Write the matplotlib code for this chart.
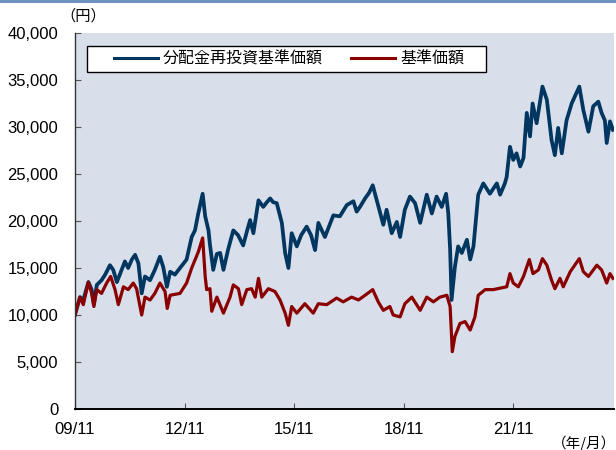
import matplotlib
matplotlib.use("Agg")
import matplotlib.pyplot as plt
from matplotlib.patches import Rectangle

plt.rcParams['font.family'] = ['Liberation Sans', 'Noto Sans CJK JP', 'DejaVu Sans']

# ---- data (decimal years, yen) ----
reinv_t = [2009.83, 2009.97, 2010.06, 2010.20, 2010.29, 2010.35, 2010.43, 2010.56, 2010.66, 2010.79,
           2010.88, 2010.98, 2011.07, 2011.20, 2011.29, 2011.39, 2011.48, 2011.57, 2011.66, 2011.75,
           2011.89, 2012.02, 2012.16, 2012.25, 2012.35, 2012.44, 2012.57, 2012.71, 2012.89, 2013.03,
           2013.12, 2013.21, 2013.33, 2013.40, 2013.49, 2013.53, 2013.62, 2013.72, 2013.81, 2013.90,
           2014.03, 2014.17, 2014.30, 2014.44, 2014.55, 2014.63, 2014.72, 2014.86, 2014.99, 2015.09,
           2015.18, 2015.26, 2015.36, 2015.50, 2015.59, 2015.68, 2015.77, 2015.91, 2016.03, 2016.18,
           2016.30, 2016.41, 2016.50, 2016.68, 2016.91, 2017.09, 2017.28, 2017.46, 2017.55, 2017.64,
           2017.78, 2017.89, 2017.99, 2018.10, 2018.28, 2018.37, 2018.51, 2018.65, 2018.74, 2018.87,
           2019.01, 2019.15, 2019.29, 2019.47, 2019.61, 2019.74, 2019.88, 2020.00, 2020.06, 2020.11,
           2020.15, 2020.24, 2020.33, 2020.43, 2020.57, 2020.66, 2020.75, 2020.88, 2021.02, 2021.20,
           2021.39, 2021.48, 2021.61, 2021.66, 2021.75, 2021.84, 2021.93, 2022.03, 2022.12, 2022.21,
           2022.30, 2022.37, 2022.48, 2022.64, 2022.76, 2022.89, 2022.98, 2023.07, 2023.17, 2023.30,
           2023.44, 2023.65, 2023.76, 2023.90, 2024.03, 2024.17, 2024.26, 2024.35, 2024.40, 2024.49,
           2024.57]
reinv_v = [10000, 11900, 11600, 13500, 12700, 11100, 13200, 13700, 14300, 15300,
           14800, 13500, 14400, 15700, 15000, 15900, 16400, 15500, 12300, 14100,
           13700, 14800, 16200, 15100, 13000, 14600, 14300, 15000, 15900, 18300,
           19000, 20800, 22900, 20500, 19000, 17500, 14800, 16500, 16600, 14800,
           17000, 19000, 18500, 17400, 19000, 20100, 18700, 22200, 21500, 22000,
           22400, 22000, 21900, 19800, 16600, 15000, 18700, 17300, 18500, 19400,
           18500, 16900, 19800, 18300, 20600, 20500, 21700, 22100, 21000, 21500,
           22400, 23000, 23800, 22200, 19600, 21200, 18700, 19900, 18300, 21200,
           22600, 21900, 19800, 22800, 20800, 22600, 21500, 22900, 20800, 17000,
           11600, 15100, 17300, 16600, 18000, 15900, 17300, 22800, 24000, 22900,
           24000, 22800, 24000, 24700, 27900, 26500, 27200, 25800, 26700, 31500,
           29000, 32500, 30400, 34300, 32900, 28600, 27000, 29900, 27200, 30700,
           32500, 34300, 31800, 29500, 32200, 32700, 31500, 30700, 28300, 30600,
           29700]

nav_t = [2009.83, 2009.97, 2010.06, 2010.20, 2010.29, 2010.35, 2010.43, 2010.56, 2010.70, 2010.81,
         2010.93, 2011.02, 2011.16, 2011.29, 2011.43, 2011.52, 2011.66, 2011.75, 2011.89, 2012.02,
         2012.16, 2012.30, 2012.36, 2012.44, 2012.71, 2012.89, 2013.03, 2013.21, 2013.33, 2013.40,
         2013.44, 2013.53, 2013.58, 2013.72, 2013.90, 2014.08, 2014.17, 2014.31, 2014.40, 2014.54,
         2014.67, 2014.77, 2014.86, 2014.95, 2015.13, 2015.31, 2015.45, 2015.59, 2015.68, 2015.77,
         2015.91, 2016.13, 2016.36, 2016.50, 2016.73, 2017.00, 2017.18, 2017.41, 2017.60, 2017.78,
         2017.99, 2018.14, 2018.28, 2018.46, 2018.55, 2018.74, 2018.87, 2019.06, 2019.29, 2019.47,
         2019.65, 2019.83, 2020.02, 2020.11, 2020.17, 2020.24, 2020.38, 2020.52, 2020.66, 2020.79,
         2020.88, 2021.07, 2021.29, 2021.66, 2021.75, 2021.84, 2021.98, 2022.12, 2022.28, 2022.38,
         2022.53, 2022.64, 2022.76, 2022.89, 2022.98, 2023.12, 2023.21, 2023.40, 2023.65, 2023.76,
         2023.90, 2024.13, 2024.26, 2024.40, 2024.49, 2024.57]
nav_v = [10000, 11900, 11100, 13500, 12300, 10900, 12700, 12300, 13400, 14100,
         12700, 11100, 13000, 12700, 13400, 12800, 10000, 11900, 11600, 12300,
         13400, 12500, 10700, 12100, 12300, 13400, 15000, 16700, 18200, 14100,
         12700, 12800, 10400, 11900, 10200, 11900, 13200, 12800, 11100, 12700,
         12800, 11900, 13900, 11900, 12800, 12500, 11600, 10200, 8900, 10900,
         10200, 11200, 10200, 11200, 11100, 11800, 11400, 11900, 11600, 12100,
         12700, 11400, 10500, 10900, 10000, 9800, 11200, 11900, 10500, 11900,
         11400, 11900, 12100, 10900, 6100, 7700, 9100, 9300, 8400, 9800,
         12100, 12700, 12700, 13000, 14400, 13400, 13000, 14100, 15900, 14400,
         14800, 16000, 15300, 13700, 12800, 13900, 13000, 14600, 16000, 14600,
         14100, 15300, 14800, 13400, 14400, 13900]

tick_pos = [2009.833, 2012.833, 2015.833, 2018.833, 2021.833]
tick_labels = ['09/11', '12/11', '15/11', '18/11', '21/11']
y_ticks = [0, 5000, 10000, 15000, 20000, 25000, 30000, 35000, 40000]

series_names = ['分配金再投資基準価額', '基準価額']

# ---- figure ----
W, H = 616, 450
fig = plt.figure(figsize=(W / 100, H / 100), dpi=100)
fig.patch.set_facecolor('white')

def fx(px):
    return px / W

def fy(py):
    return 1 - py / H

left, right, top, bottom = 75, 614, 33, 409
ax = fig.add_axes([fx(left), fy(bottom), fx(right - left), (bottom - top) / H])
ax.set_facecolor('#D9DFEA')

blue = '#00365F'
red = '#8A0000'
ax.plot(reinv_t, reinv_v, color=blue, lw=2.7, solid_joinstyle='round', label=series_names[0])
ax.plot(nav_t, nav_v, color=red, lw=2.3, solid_joinstyle='round', label=series_names[1])

ax.set_xlim(2009.833, 2024.60)
ax.set_ylim(0, 40000)
ax.set_yticks(y_ticks)
ax.set_yticklabels([f'{v:,}' for v in y_ticks])
ax.set_xticks(tick_pos)
ax.set_xticklabels(tick_labels)

for s in ['top', 'right']:
    ax.spines[s].set_visible(False)
ax.spines['left'].set_color('#333333')
ax.spines['left'].set_linewidth(1.0)
ax.spines['bottom'].set_color('black')
ax.spines['bottom'].set_linewidth(1.4)

ax.tick_params(axis='y', direction='in', length=4, width=0.8, color='#555555',
               labelsize=12, pad=12, labelcolor='black')
ax.tick_params(axis='x', direction='in', length=4, width=0.8, color='#555555',
               labelsize=12, pad=9, labelcolor='black')

# legend box
fig.add_artist(Rectangle((fx(87), fy(72)), fx(486 - 87), (72 - 46) / H,
                         transform=fig.transFigure, facecolor='white',
                         edgecolor='black', lw=1.0, zorder=5))
leg = fig.legend(loc='center left', bbox_to_anchor=(fx(114), fy(59)),
                 bbox_transform=fig.transFigure, ncol=2, frameon=False,
                 fontsize=11.5, handlelength=2.75, handletextpad=0.3,
                 columnspacing=1.8, borderpad=0, borderaxespad=0)
leg.set_zorder(6)
for line in leg.get_lines():
    line.set_linewidth(2.2)

# unit labels
cjk = ['Noto Sans CJK JP', 'DejaVu Sans']
fig.text(fx(60), fy(16), '（円）', fontsize=11, ha='left', va='center', family=cjk)
fig.text(fx(616), fy(443), '（年/月）', fontsize=10.5, ha='right', va='center', family=cjk)

# top border strip
fig.add_artist(Rectangle((0, fy(3)), 1, 3 / H, transform=fig.transFigure,
                         facecolor='#6F91C2', edgecolor='none', zorder=10))

fig.savefig('out.png', dpi=100)
